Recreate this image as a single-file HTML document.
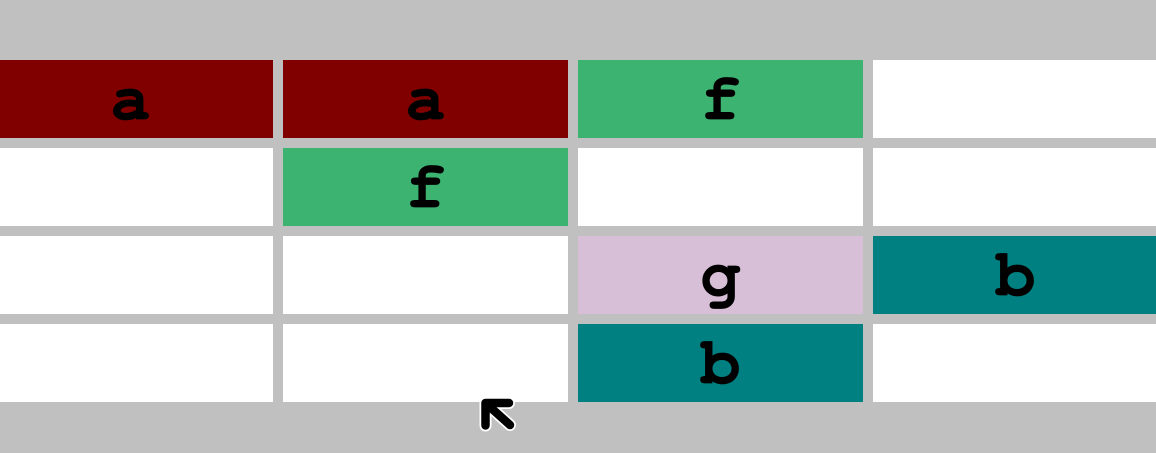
<!DOCTYPE html>
<html>
<head>
<meta charset="utf-8">
<title>Letter grid</title>
<style>
html,body{margin:0;padding:0;width:1156px;height:453px;overflow:hidden;background:#c0c0c0}
svg{display:block}
text{font-family:"Nimbus Mono PS","Nimbus Mono L","FreeMono","Courier 10 Pitch","Courier","Courier New","DejaVu Serif",monospace;font-weight:bold;font-size:66.67px;fill:#000;stroke:#000;stroke-width:0.7px;stroke-linejoin:round;text-anchor:middle}
</style>
</head>
<body>
<svg id="grid" width="1156" height="453" viewBox="0 0 1156 453" xmlns="http://www.w3.org/2000/svg">
<rect x="0" y="0" width="1156" height="453" fill="#c0c0c0"></rect>
<g id="cells"></g>
<g id="cursor" fill="none" stroke-linecap="round" stroke-linejoin="round">
<path d="M509 403 H485.500 V425.500 M485.500 403 L510 425" stroke="#fff" stroke-width="12"></path>
<path d="M509 403 H485.500 V425.500 M485.500 403 L510 425" stroke="#000" stroke-width="8.500"></path>
<path d="M485 402 L497 402 L485 414 Z" fill="#000" stroke="#000" stroke-width="4"></path>
</g>
</svg>
<script>
var rowValues = [
  ['a', 'a', 'f', ''],
  ['',  'f', '',  ''],
  ['',  '',  'g', 'b'],
  ['',  '',  'b', '']
];
var letterColors = { a: '#800000', f: '#3cb371', g: '#d8bfd8', b: '#008080', '': '#ffffff' };

function colX(c) { return -12 + c * 295; }
function rowY(r) { return 60 + r * 88; }
var cellW = 285, cellH = 78, baseline = 59;

var svgNS = 'http://www.w3.org/2000/svg';
var host = document.getElementById('cells');
rowValues.forEach(function (row, r) {
  row.forEach(function (letter, c) {
    var rect = document.createElementNS(svgNS, 'rect');
    rect.setAttribute('x', colX(c));
    rect.setAttribute('y', rowY(r));
    rect.setAttribute('width', cellW);
    rect.setAttribute('height', cellH);
    rect.setAttribute('fill', letterColors[letter]);
    
    
    host.appendChild(rect);
    if (letter) {
      var t = document.createElementNS(svgNS, 'text');
      t.setAttribute('x', colX(c) + cellW / 2);
      t.setAttribute('y', rowY(r) + baseline);
      t.textContent = letter;
      
      
      host.appendChild(t);
    }
  });
});
</script>
</body>
</html>
